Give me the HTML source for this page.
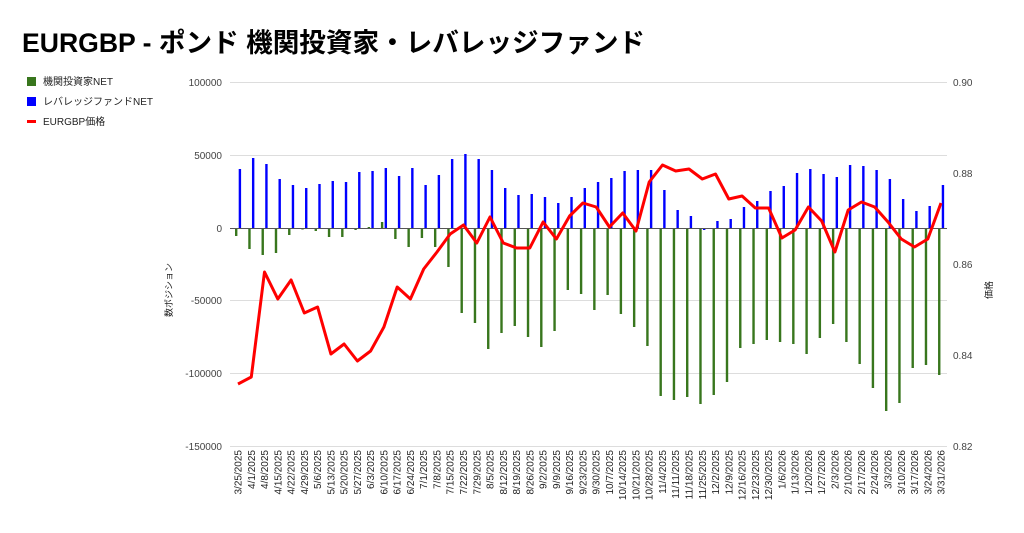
<!DOCTYPE html>
<html><head><meta charset="utf-8">
<style>
body{margin:0;background:#fff;width:1024px;height:528px;overflow:hidden;font-family:"Liberation Sans","Noto Sans CJK JP",sans-serif;}
svg text{font-family:"Liberation Sans","Noto Sans CJK JP",sans-serif;}
</style></head><body>
<svg id="c" width="1024" height="528" xmlns="http://www.w3.org/2000/svg">
<text x="22" y="52" font-size="26.6" font-weight="bold" fill="#000">EURGBP - ポンド 機関投資家・レバレッジファンド</text>
<rect x="27" y="77" width="9" height="9" fill="#38761d"/>
<text x="43" y="85" font-size="10" fill="#222">機関投資家NET</text>
<rect x="27" y="97" width="9" height="9" fill="#0000ff"/>
<text x="43" y="105" font-size="10" fill="#222">レバレッジファンドNET</text>
<rect x="27" y="120" width="9" height="3" fill="#ff0000"/>
<text x="43" y="125" font-size="10" fill="#222">EURGBP価格</text>
<g stroke="#ddd" stroke-width="1">
<line x1="230" y1="82.5" x2="947" y2="82.5"/>
<line x1="230" y1="155.5" x2="947" y2="155.5"/>
<line x1="230" y1="300.5" x2="947" y2="300.5"/>
<line x1="230" y1="373.5" x2="947" y2="373.5"/>
<line x1="230" y1="446.5" x2="947" y2="446.5"/>
</g>
<g font-size="10" fill="#444" text-anchor="end">
<text x="222" y="86">100000</text>
<text x="222" y="159">50000</text>
<text x="222" y="232">0</text>
<text x="222" y="304">-50000</text>
<text x="222" y="377">-100000</text>
<text x="222" y="450">-150000</text>
</g>
<g font-size="10" fill="#444">
<text x="953" y="86">0.90</text>
<text x="953" y="177">0.88</text>
<text x="953" y="268">0.86</text>
<text x="953" y="359">0.84</text>
<text x="953" y="450">0.82</text>
</g>
<text transform="translate(172,290) rotate(-90)" font-size="9" fill="#222" text-anchor="middle">数ポジション</text>
<text transform="translate(992,290) rotate(-90)" font-size="9" fill="#222" text-anchor="middle">価格</text>
<g id="bars"></g>
<line x1="230" y1="228.5" x2="947" y2="228.5" stroke="#555" stroke-width="1"/>
<g id="line"></g>
<g id="xl" font-size="10" fill="#222" text-anchor="end"></g>
</svg>
<script>
var blue=[169,158,164,179,185,188,184,181,182,172,171,168,176,168,185,175,159,154,159,170,188,195,194,197,203,197,188,182,178,171,170,170,190,210,216,230,221,219,207,201,191,186,173,169,174,177,165,166,170,179,199,211,206,185];
var green=[236,249,255,253,235,229,231,237,237,230,227,222,239,247,238,247,267,313,323,349,333,326,337,347,331,290,294,310,295,314,327,346,396,400,397,404,395,382,348,344,340,342,344,354,338,324,342,364,388,411,403,368,365,375];
var red=[384,377,272,299,280,313,307,354,344,361,351,327,287,299,269,252,234,225,243,217,243,248,248,222,239,216,203,207,227,213,231,182,165,171,169,179,174,199,196,208,208,238,230,207,221,252,210,202,207,222,239,247,239,203];
var dates=[];var d=new Date(2025,2,25);
for(var i=0;i<54;i++){dates.push((d.getMonth()+1)+"/"+d.getDate()+"/"+d.getFullYear());d.setDate(d.getDate()+7);}
var ns="http://www.w3.org/2000/svg";
var bars=document.getElementById("bars"),xl=document.getElementById("xl");
function el(n,a,p){var e=document.createElementNS(ns,n);for(var k in a)e.setAttribute(k,a[k]);p.appendChild(e);return e;}
var pts=[];
for(var i=0;i<54;i++){
 var gx=235+13.265*i, bx=238.7+13.265*i, rx=238+13.265*i;
 var g=green[i];
 el("rect",{x:gx,y:Math.min(g,228.5),width:2.4,height:Math.max(Math.abs(g-228.5),1),fill:"#38761d"},bars);
 var b=blue[i];
 el("rect",{x:bx,y:Math.min(b,228.5),width:2.4,height:Math.max(Math.abs(b-228.5),1),fill:"#0000ff"},bars);
 pts.push(rx.toFixed(1)+","+red[i]);
 var t=el("text",{transform:"translate("+(rx+3.5)+",450) rotate(-90)"},xl);t.textContent=dates[i];
}
el("polyline",{points:pts.join(" "),fill:"none",stroke:"#ff0000","stroke-width":3,"stroke-linejoin":"round"},document.getElementById("line"));
</script>
</body></html>
